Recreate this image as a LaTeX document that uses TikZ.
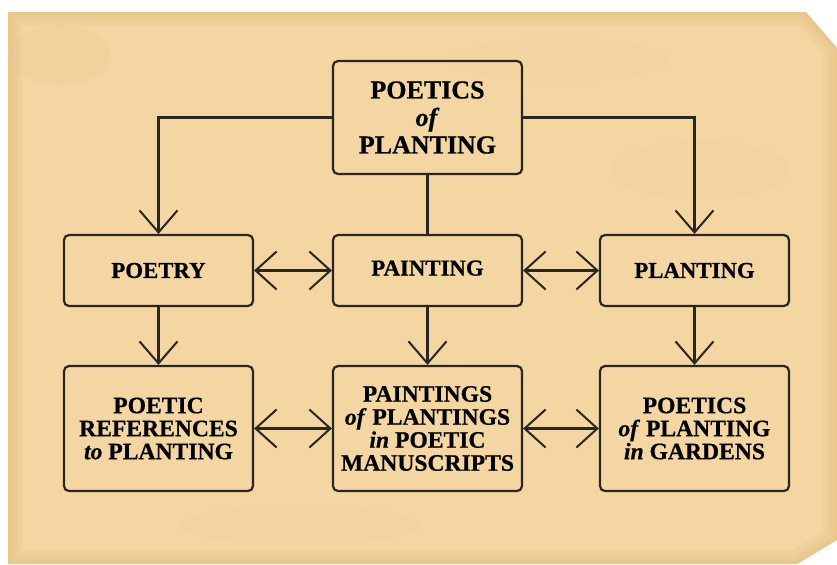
\documentclass[tikz,border=0pt]{standalone}
\usepackage{fontspec}
\setmainfont{Liberation Serif}[BoldFeatures={FakeBold=0.6},BoldItalicFeatures={FakeBold=0.6}]
\usetikzlibrary{arrows.meta}
\pgfdeclarelayer{background layer}
\pgfsetlayers{background layer,main}
\definecolor{parchment}{RGB}{243,214,162}
\definecolor{parchedge}{RGB}{222,180,112}
\definecolor{ink}{RGB}{42,38,34}
\tikzstyle{topic}=[draw=ink,line width=1.1pt,rounded corners=2.5pt,align=center,text=black,font=\bfseries\fontsize{11.8}{11.5}\selectfont,minimum width=94.5pt,inner sep=2pt]
\tikzstyle{head}=[topic,minimum height=56.5pt,font=\bfseries\fontsize{13}{13.75}\selectfont]
\tikzstyle{mid}=[topic,minimum height=35.5pt,font=\bfseries\fontsize{11.4}{11.5}\selectfont]
\tikzstyle{low}=[topic,minimum height=62.5pt]
\tikzstyle{link}=[draw=ink,line width=1.1pt]
\tikzstyle{down}=[link,-{Straight Barb[length=11pt,width=19pt,line width=1pt]}]
\tikzstyle{both}=[link,{Straight Barb[length=10.5pt,width=19pt,line width=1pt]}-{Straight Barb[length=10.5pt,width=19pt,line width=1pt]}]

\begin{document}
\begin{tikzpicture}[x=0.5pt,y=-0.5pt]
			\useasboundingbox (0,0) rectangle (837,564);
			\node (poetics) at (427.5,117.5) [head] {POETICS\\\textit{of}\\PLANTING};
			\node (poetry) at (158.5,270.5) [mid] {POETRY};
			\node (painting) at (427.5,270.5) [mid] {\raisebox{2.5pt}{PAINTING}};
			\node (planting) at (694.5,270.5) [mid] {PLANTING};
			\node (references) at (158.5,428.5) [low] {POETIC\\REFERENCES\\\textit{to} PLANTING};
			\node (manuscripts) at (427.5,428.5) [low] {PAINTINGS\\\textit{of} PLANTINGS\\\textit{in} POETIC\\MANUSCRIPTS};
			\node (gardens) at (694.5,428.5) [low] {POETICS\\\textit{of} PLANTING\\\textit{in} GARDENS};
			\draw [down] (poetics.west) -| (poetry.north);
			\draw [down] (poetics.east) -| (planting.north);
			\draw [link] (poetics.south) -- (painting.north);
			\draw [down] (poetry.south) -- (references.north);
			\draw [down] (painting.south) -- (manuscripts.north);
			\draw [down] (planting.south) -- (gardens.north);
			\draw [both] (poetry.east) -- (painting.west);
			\draw [both] (painting.east) -- (planting.west);
			\draw [both] (references.east) -- (manuscripts.west);
			\draw [both] (manuscripts.east) -- (gardens.west);
			\begin{pgfonlayer}{background layer}
				\fill [white] (0,0) rectangle (837,564);
				\fill [parchment] (8,12) -- (806,12) -- (837,48) -- (837,540) -- (797,564) -- (8,564) -- cycle;
				\begin{scope}
					\clip (8,12) -- (806,12) -- (837,48) -- (837,540) -- (797,564) -- (8,564) -- cycle;
					\foreach \w in {3,6,10,14}
						\draw [parchedge,line width=\w pt,opacity=0.12] (8,12) -- (806,12) -- (837,48) -- (837,540) -- (797,564) -- (8,564) -- cycle;
					\fill [parchedge,opacity=0.09] (60,55) ellipse (50 and 30);
					\fill [parchedge,opacity=0.06] (700,170) ellipse (90 and 30);
					\fill [parchedge,opacity=0.06] (300,525) ellipse (120 and 20);
					\fill [parchedge,opacity=0.05] (560,60) ellipse (110 and 22);
				\end{scope}
			\end{pgfonlayer}
		\end{tikzpicture}
\end{document}
